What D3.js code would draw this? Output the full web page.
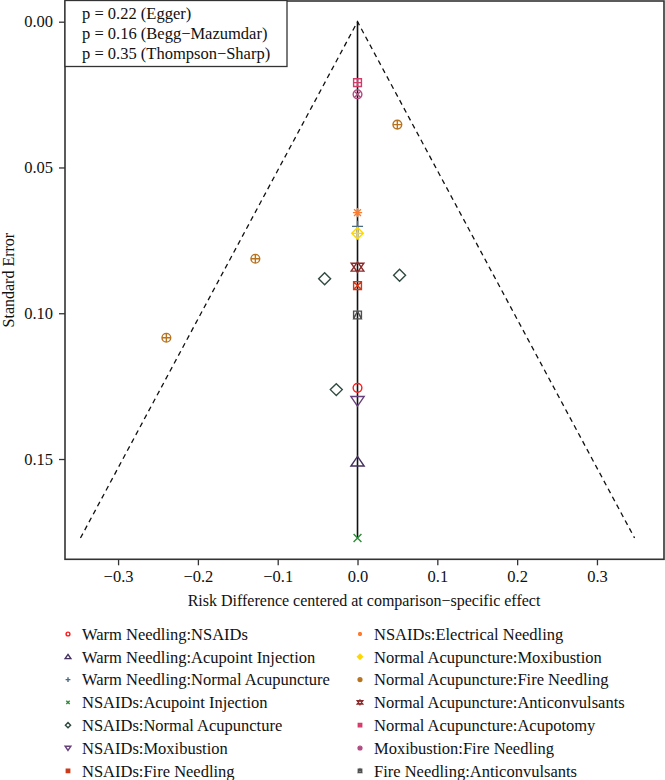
<!DOCTYPE html>
<html>
<head>
<meta charset="utf-8">
<script src="https://cdn.jsdelivr.net/npm/d3@7"></script>
<style>
  html, body { margin: 0; padding: 0; background: #fff; }
  svg { display: block; }
  text { font-family: "Liberation Serif", "DejaVu Serif", serif; fill: #111; }
</style>
</head>
<body>
<svg id="chart" width="665" height="780"></svg>
<script>
// ---------------- data ----------------
const comparisons = [
  "Warm Needling:NSAIDs",
  "Warm Needling:Acupoint Injection",
  "Warm Needling:Normal Acupuncture",
  "NSAIDs:Acupoint Injection",
  "NSAIDs:Normal Acupuncture",
  "NSAIDs:Moxibustion",
  "NSAIDs:Fire Needling",
  "NSAIDs:Electrical Needling",
  "Normal Acupuncture:Moxibustion",
  "Normal Acupuncture:Fire Needling",
  "Normal Acupuncture:Anticonvulsants",
  "Normal Acupuncture:Acupotomy",
  "Moxibustion:Fire Needling",
  "Fire Needling:Anticonvulsants"
];
const comparisonColors = [
  "#ff1a1a", "#44305e", "#4a6a82", "#2e8b3a", "#304a40", "#66407a", "#cc3a1a",
  "#ff7a2a", "#ffd700", "#b8731e", "#8b2a2a", "#d63a6a", "#b04a80", "#505050"
];
const comparisonSymbols = [
  "circle", "triUp", "plus", "cross", "diamond", "triDown", "squareX",
  "asterisk", "diamondPlus", "circlePlus", "starDavid", "squarePlus", "circleX", "squareTri"
];
// each study: comparison index, centred effect (risk difference), standard error
const studyComparison = [0, 1, 2, 3, 4, 4, 4, 5, 6, 7, 8, 9, 9, 9, 10, 11, 12, 13];
const studyEffect     = [0, 0, 0, 0, -0.0412, 0.0527, -0.0266, 0, 0, 0, 0, 0.0499, -0.128, -0.2395, 0, 0, 0, 0];
const studySE         = [0.1256, 0.1510, 0.0702, 0.1771, 0.0882, 0.0870, 0.1262, 0.1300, 0.0905, 0.0655, 0.0726, 0.0353, 0.0813, 0.1084, 0.0842, 0.0209, 0.0249, 0.1006];
const seMax = 0.1771;
const xTicks = [-0.3, -0.2, -0.1, 0.0, 0.1, 0.2, 0.3];
const yTicks = [0.00, 0.05, 0.10, 0.15];
const testLines = ["p = 0.22 (Egger)", "p = 0.16 (Begg\u2212Mazumdar)", "p = 0.35 (Thompson\u2212Sharp)"];
const xTitle = "Risk Difference centered at comparison\u2212specific effect";
const yTitle = "Standard Error";

// ---------------- layout ----------------
const L = 65, R = 664, T = 1, B = 559.3;
const FONT = "'Liberation Serif', 'DejaVu Serif', serif";
const svg = d3.select("#chart");
const x = d3.scaleLinear().domain([-0.3665, 0.3840]).range([L, R]);
const y = d3.scaleLinear().domain([-0.0071, 0.1844]).range([T, B]);

// symbol path generator (R pch-like), size s = half-extent
function symbolPath(type, s) {
  const p = d3.path();
  const circ = (r) => { p.moveTo(r, 0); p.arc(0, 0, r, 0, 2 * Math.PI); };
  const line = (x1, y1, x2, y2) => { p.moveTo(x1, y1); p.lineTo(x2, y2); };
  const tri = (up, r) => {
    const w = r * 1.2;
    if (up) { p.moveTo(0, -r); p.lineTo(w, r * 0.75); p.lineTo(-w, r * 0.75); p.closePath(); }
    else { p.moveTo(0, r); p.lineTo(w, -r * 0.75); p.lineTo(-w, -r * 0.75); p.closePath(); }
  };
  const sq = (r) => { p.rect(-r, -r, 2 * r, 2 * r); };
  const dia = (r) => { p.moveTo(0, -r); p.lineTo(r, 0); p.lineTo(0, r); p.lineTo(-r, 0); p.closePath(); };
  switch (type) {
    case "circle": circ(s * 0.95); break;
    case "triUp": tri(true, s * 1.2); break;
    case "triDown": tri(false, s * 1.2); break;
    case "plus": line(-s * 1.2, 0, s * 1.2, 0); line(0, -s * 1.2, 0, s * 1.2); break;
    case "cross": line(-s * 0.85, -s * 0.85, s * 0.85, s * 0.85); line(-s * 0.85, s * 0.85, s * 0.85, -s * 0.85); break;
    case "diamond": dia(s * 1.3); break;
    case "squareX": { const r = s * 0.85; sq(r); line(-r, -r, r, r); line(-r, r, r, -r); break; }
    case "asterisk": { const r = s * 1.0, d = r * 0.75; line(-r, 0, r, 0); line(0, -r, 0, r); line(-d, -d, d, d); line(-d, d, d, -d); break; }
    case "diamondPlus": { const r = s * 1.25; dia(r); line(-r, 0, r, 0); line(0, -r, 0, r); break; }
    case "circlePlus": { const r = s * 0.95; circ(r); line(-r, 0, r, 0); line(0, -r, 0, r); break; }
    case "circleX": { const r = s * 0.95, d = r * 0.707; circ(r); line(-d, -d, d, d); line(-d, d, d, -d); break; }
    case "starDavid": tri(true, s * 1.15); tri(false, s * 1.15); break;
    case "squarePlus": { const r = s * 0.85; sq(r); line(-r, 0, r, 0); line(0, -r, 0, r); break; }
    case "squareTri": { const r = s * 0.85; sq(r); p.moveTo(0, -r); p.lineTo(r, r); p.lineTo(-r, r); p.closePath(); break; }
  }
  return p.toString();
}

// ---------------- funnel ----------------
const g = svg.append("g");
g.append("path")
  .attr("d", d3.line()([[x(-1.96 * seMax), y(seMax)], [x(0), y(0)], [x(1.96 * seMax), y(seMax)]]))
  .attr("fill", "none").attr("stroke", "#111").attr("stroke-width", 1.3)
  .attr("stroke-dasharray", "5,4");
g.append("line")
  .attr("x1", x(0)).attr("x2", x(0)).attr("y1", y(0)).attr("y2", y(seMax))
  .attr("stroke", "#111").attr("stroke-width", 1.6);

// ---------------- points ----------------
g.selectAll("path.pt").data(studySE.map((se, i) => i)).enter().append("path")
  .attr("class", "pt")
  .attr("transform", i => `translate(${x(studyEffect[i])},${y(studySE[i])})`)
  .attr("d", i => symbolPath(comparisonSymbols[studyComparison[i]], 4.6))
  .attr("fill", "none")
  .attr("stroke", i => comparisonColors[studyComparison[i]])
  .attr("stroke-width", 1.4);

// ---------------- frame & axes ----------------
svg.append("rect").attr("x", L).attr("y", T).attr("width", R - L).attr("height", B - T)
  .attr("fill", "none").attr("stroke", "#333").attr("stroke-width", 1.6);

const xAxis = svg.append("g").attr("transform", `translate(0,${B})`)
  .call(d3.axisBottom(x).tickValues(xTicks).tickSize(6).tickPadding(5)
    .tickFormat(d => (d < 0 ? "\u2212" : "") + Math.abs(d).toFixed(1)));
xAxis.attr("font-family", null);
xAxis.select(".domain").remove();
xAxis.selectAll("line").attr("stroke", "#333").attr("stroke-width", 1.3);
xAxis.selectAll("text").style("font-size", "16.5px").style("font-family", FONT).attr("fill", "#111");

const yAxis = svg.append("g").attr("transform", `translate(${L},0)`)
  .call(d3.axisLeft(y).tickValues(yTicks).tickSize(6).tickPadding(6)
    .tickFormat(d3.format(".2f")));
yAxis.attr("font-family", null);
yAxis.select(".domain").remove();
yAxis.selectAll("line").attr("stroke", "#333").attr("stroke-width", 1.3);
yAxis.selectAll("text").style("font-size", "16.5px").style("font-family", FONT).attr("fill", "#111");

svg.append("text").attr("x", (L + R) / 2 - 0.5).attr("y", 606)
  .attr("text-anchor", "middle").style("font-size", "16px").text(xTitle);
svg.append("text").attr("transform", `translate(14,${(T + B) / 2}) rotate(-90)`)
  .attr("text-anchor", "middle").style("font-size", "16px").text(yTitle);

// ---------------- test box ----------------
svg.append("rect").attr("x", L).attr("y", 0.5).attr("width", 222).attr("height", 66)
  .attr("fill", "#fff").attr("stroke", "#333").attr("stroke-width", 1.3);
svg.selectAll("text.test").data(testLines).enter().append("text")
  .attr("class", "test").attr("x", 82).attr("y", (d, i) => 19 + i * 20)
  .style("font-size", "16.5px").text(d => d);

// ---------------- legend ----------------
const legend = svg.append("g");
const rowY = i => 634 + (i % 7) * 22.8;
const colSym = i => (i < 7 ? 68 : 360);
comparisons.forEach((c, i) => {
  legend.append("path")
    .attr("transform", `translate(${colSym(i)},${rowY(i)})`)
    .attr("d", symbolPath(comparisonSymbols[i], 2.0))
    .attr("fill", "none").attr("stroke", comparisonColors[i]).attr("stroke-width", 1.4);
  legend.append("text")
    .attr("x", colSym(i) + 14).attr("y", rowY(i)).attr("dy", "0.35em")
    .style("font-size", "16.5px").text(c);
});
</script>
</body>
</html>
